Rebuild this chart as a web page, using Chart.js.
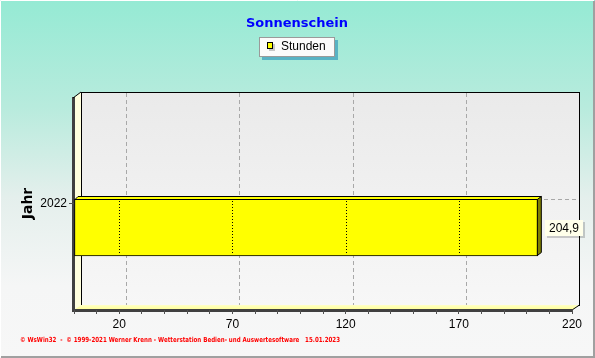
<!DOCTYPE html>
<html>
<head>
<meta charset="utf-8">
<script src="https://cdn.jsdelivr.net/npm/chart.js@4"></script>
<style>
  html, body { margin: 0; padding: 0; background: #f7f7f7; }
  #wrap { width: 595px; height: 358px; }
</style>
</head>
<body>
<div id="wrap"><canvas id="chart" width="595" height="358"></canvas></div>
<script>
// data
const years = ['2022'];
const sunHours = [204.9];
const valueLabels = ['204,9'];
const labelTicks = [20, 70, 120, 170, 220];

const chartTitle = 'Sonnenschein';
const seriesName = 'Stunden';
const footer = '\u00a9 WsWin32  -  \u00a9 1999-2021 Werner Krenn - Wetterstation Bedien- und Auswertesoftware   15.01.2023';

// 3d look
const depthX = 7, depthY = 5;   // wall depth
const barDepth = 3;
const barShift = 24;            // WsWin draws the bar below the category tick

const wallsPlugin = {
  id: 'walls',
  beforeDraw(chart) {
    const ctx = chart.ctx;
    const { left, right, top, bottom } = chart.chartArea;
    const xs = chart.scales.x, ys = chart.scales.y;
    ctx.save();

    // page background
    const bg = ctx.createLinearGradient(0, 0, 0, 358);
    bg.addColorStop(0, '#95ead4');
    bg.addColorStop(0.3, '#b8ebdd');
    bg.addColorStop(0.55, '#e4efec');
    bg.addColorStop(0.8, '#f5f6f6');
    bg.addColorStop(1, '#f7f7f7');
    ctx.fillStyle = bg;
    ctx.fillRect(0, 0, 595, 358);

    // frame
    ctx.lineWidth = 1;
    ctx.strokeStyle = '#ffffff';
    ctx.beginPath(); ctx.moveTo(0.5, 357); ctx.lineTo(0.5, 0.5); ctx.lineTo(594, 0.5); ctx.stroke();
    ctx.strokeStyle = '#a0a0a0';
    ctx.lineWidth = 2;
    ctx.beginPath(); ctx.moveTo(1, 357); ctx.lineTo(594, 357); ctx.lineTo(594, 1); ctx.stroke();

    // title
    ctx.fillStyle = '#0000ff';
    ctx.font = 'bold 13px "DejaVu Sans"';
    ctx.textAlign = 'center';
    ctx.textBaseline = 'middle';
    ctx.fillText(chartTitle, 297, 24);

    // legend box
    ctx.fillStyle = '#58b3c4';
    ctx.fillRect(262, 40, 76, 20);
    ctx.fillStyle = '#fbfbfb';
    ctx.fillRect(259, 37, 76, 20);
    ctx.strokeStyle = '#9a9a9a';
    ctx.lineWidth = 1;
    ctx.strokeRect(259.5, 37.5, 75, 19);
    ctx.fillStyle = '#c8c8c8';
    ctx.fillRect(269, 44, 6, 7);
    ctx.fillStyle = '#ffff00';
    ctx.fillRect(267, 42, 6, 7);
    ctx.strokeStyle = '#000';
    ctx.strokeRect(267.5, 42.5, 5, 6);
    ctx.fillStyle = '#000';
    ctx.font = '12px "Liberation Sans"';
    ctx.textAlign = 'left';
    ctx.fillText(seriesName, 281, 47);

    // footer
    ctx.fillStyle = '#ff0000';
    ctx.font = 'bold 7px "DejaVu Sans"';
    ctx.fillText(footer, 20, 340, 320);

    // back wall
    const wall = ctx.createLinearGradient(0, top - depthY, 0, bottom - depthY);
    wall.addColorStop(0, '#eaeaea');
    wall.addColorStop(1, '#f7f7f7');
    ctx.fillStyle = wall;
    ctx.fillRect(left + depthX, top - depthY, right - left, bottom - top);
    ctx.strokeStyle = '#000';
    ctx.strokeRect(left + depthX + 0.5, top - depthY + 0.5, right - left, bottom - top);

    // left wall
    ctx.fillStyle = '#ffffde';
    ctx.beginPath();
    ctx.moveTo(left, top); ctx.lineTo(left + depthX, top - depthY);
    ctx.lineTo(left + depthX, bottom - depthY); ctx.lineTo(left, bottom);
    ctx.closePath(); ctx.fill();

    // floor
    const fl = ctx.createLinearGradient(0, bottom - depthY, 0, bottom);
    fl.addColorStop(0, '#ffffc8');
    fl.addColorStop(1, '#ffff90');
    ctx.fillStyle = fl;
    ctx.beginPath();
    ctx.moveTo(left, bottom); ctx.lineTo(left + depthX, bottom - depthY);
    ctx.lineTo(right + depthX, bottom - depthY); ctx.lineTo(right, bottom);
    ctx.closePath(); ctx.fill();
    ctx.strokeStyle = '#000';
    ctx.beginPath();
    ctx.moveTo(right, bottom); ctx.lineTo(right + depthX + 0.5, bottom - depthY);
    ctx.stroke();

    // back grid
    ctx.strokeStyle = '#a8a8a8';
    ctx.setLineDash([4, 3]);
    labelTicks.forEach(v => {
      const x = Math.round(xs.getPixelForValue(v) + depthX) + 0.5;
      if (x >= right + depthX - 1) return;
      ctx.beginPath(); ctx.moveTo(x, top - depthY + 1); ctx.lineTo(x, bottom - depthY); ctx.stroke();
    });
    years.forEach((y, i) => {
      const yy = Math.round(ys.getPixelForValue(i) - depthY) + 0.5;
      ctx.beginPath(); ctx.moveTo(left + depthX + 1, yy); ctx.lineTo(right + depthX, yy); ctx.stroke();
    });
    ctx.setLineDash([]);

    // axis lines
    ctx.fillStyle = '#404040';
    ctx.fillRect(left - 2, top, 3, bottom - top + 2);
    ctx.fillRect(left - 2, bottom - 1, right - left + 3, 3);
    ctx.strokeStyle = '#000';
    ctx.lineWidth = 1;
    ctx.beginPath();
    ctx.moveTo(left - 1, top + 1); ctx.lineTo(left + depthX, top - depthY);
    ctx.stroke();
    ctx.restore();
  },
  beforeDatasetsDraw(chart) {
    chart.ctx.save();
    chart.ctx.translate(0, barShift);
  },
  afterDatasetsDraw(chart) {
    const ctx = chart.ctx;
    ctx.restore();
    const xs = chart.scales.x;
    const meta = chart.getDatasetMeta(0);
    ctx.save();
    meta.data.forEach((bar, i) => {
      const x0 = bar.base, x1 = bar.x;
      const yTop = bar.y - bar.height / 2 + barShift;
      const yBot = bar.y + bar.height / 2 + barShift;
      ctx.lineWidth = 1;
      ctx.strokeStyle = '#000';
      // top face
      ctx.fillStyle = '#ffff00';
      ctx.beginPath();
      ctx.moveTo(x0 + 0.5, yTop + 0.5); ctx.lineTo(x0 + barDepth + 0.5, yTop - barDepth + 0.5);
      ctx.lineTo(x1 + barDepth + 0.5, yTop - barDepth + 0.5); ctx.lineTo(x1 + 0.5, yTop + 0.5);
      ctx.closePath(); ctx.fill(); ctx.stroke();
      // side face
      ctx.fillStyle = '#808000';
      ctx.beginPath();
      ctx.moveTo(x1 - 0.5, yTop + 0.5); ctx.lineTo(x1 + barDepth + 0.5, yTop - barDepth + 0.5);
      ctx.lineTo(x1 + barDepth + 0.5, yBot - barDepth - 0.5); ctx.lineTo(x1 - 0.5, yBot - 0.5);
      ctx.closePath(); ctx.fill(); ctx.stroke();
      // dotted grid on the bar face
      ctx.setLineDash([1, 2]);
      labelTicks.forEach(v => {
        if (v >= sunHours[i]) return;
        const x = Math.round(xs.getPixelForValue(v)) + 0.5;
        ctx.beginPath(); ctx.moveTo(x, yTop + 2); ctx.lineTo(x, yBot - 1); ctx.stroke();
      });
      ctx.setLineDash([]);
      // value label
      const bx = Math.round(x1 + barDepth + 4), by = Math.round((yTop + yBot) / 2 - 8);
      ctx.fillStyle = 'rgba(0,0,0,0.18)';
      ctx.fillRect(bx + 2, by + 2, 38, 16);
      ctx.fillStyle = '#ffffea';
      ctx.fillRect(bx, by, 38, 16);
      ctx.fillStyle = '#000';
      ctx.font = '12px "Liberation Sans"';
      ctx.textAlign = 'center';
      ctx.textBaseline = 'middle';
      ctx.fillText(valueLabels[i], bx + 19, by + 8.5);
    });
    ctx.restore();
  }
};

new Chart(document.getElementById('chart'), {
  type: 'bar',
  data: {
    labels: years,
    datasets: [{
      label: seriesName,
      data: sunHours,
      backgroundColor: '#ffff00',
      borderColor: '#000000',
      borderWidth: 1,
      borderSkipped: false,
      barThickness: 57
    }]
  },
  options: {
    indexAxis: 'y',
    responsive: false,
    animation: false,
    devicePixelRatio: 1,
    layout: { padding: { left: 0, top: 97, right: 23, bottom: 0 } },
    plugins: {
      legend: { display: false },
      title: { display: false },
      tooltip: { enabled: false }
    },
    scales: {
      x: {
        type: 'linear',
        min: 0,
        max: 220,
        afterFit: s => { s.height = 48; },
        border: { display: false },
        grid: { drawOnChartArea: false, drawTicks: true, tickLength: 4, color: '#505050' },
        ticks: {
          stepSize: 10,
          autoSkip: false,
          maxRotation: 0,
          padding: 3,
          color: '#000',
          font: { family: 'Liberation Sans', size: 12 },
          callback: v => labelTicks.includes(v) ? String(v) : ''
        }
      },
      y: {
        type: 'category',
        offset: true,
        afterFit: s => { s.width = 74; },
        border: { display: false },
        grid: { offset: false, drawOnChartArea: false, drawTicks: true, tickLength: 5, color: '#505050' },
        ticks: {
          padding: 2,
          color: '#000',
          font: { family: 'Liberation Sans', size: 12 }
        },
        title: {
          display: true,
          text: 'Jahr',
          color: '#000',
          padding: { top: 20, bottom: 0 },
          font: { family: 'DejaVu Sans', size: 14, weight: 'bold' }
        }
      }
    }
  },
  plugins: [wallsPlugin]
});
</script>
</body>
</html>
